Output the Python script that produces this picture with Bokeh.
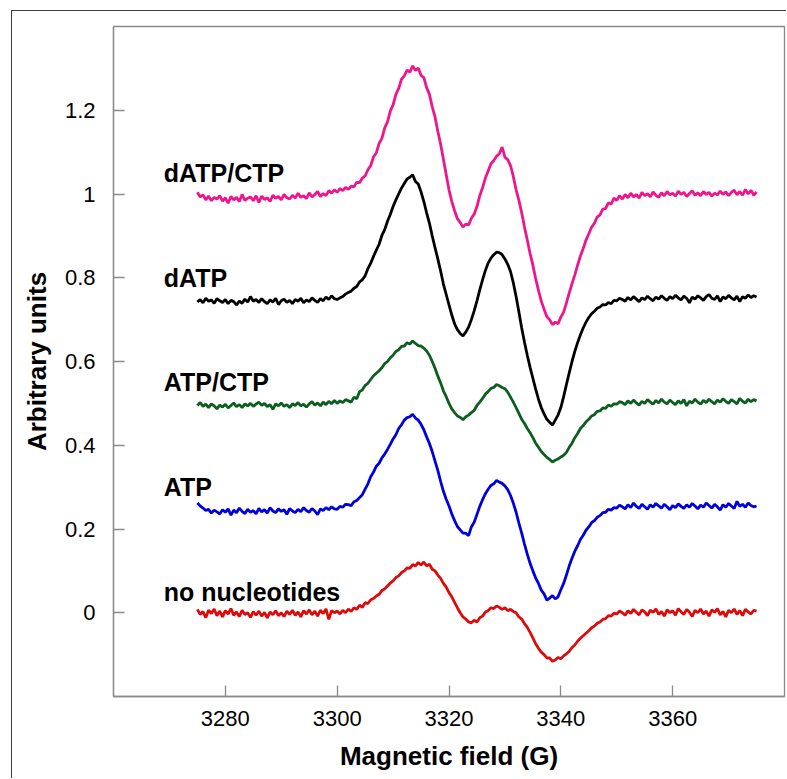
import numpy as np
from bokeh.plotting import figure
from bokeh.models import ColumnDataSource, FixedTicker, Label
from bokeh.embed import file_html
from bokeh.resources import INLINE

# ---------------- data ----------------
field = np.arange(3275.0, 3375.5, 0.5)  # magnetic field grid (G)

dATP_CTP = [
    1.004, 0.993, 0.998, 0.986, 0.995, 0.984, 0.992, 0.988, 0.996, 0.983,
    0.991, 0.978, 0.994, 0.986, 0.992, 0.982, 0.999, 0.985, 0.990, 0.993,
    0.984, 0.996, 0.980, 0.995, 0.987, 0.991, 0.982, 0.997, 0.990, 0.994,
    0.986, 0.999, 0.991, 0.988, 0.997, 0.990, 1.002, 0.992, 0.996, 0.989,
    1.003, 0.993, 0.999, 1.006, 0.994, 1.001, 0.996, 1.008, 1.002, 1.010,
    1.004, 1.013, 1.008, 1.016, 1.011, 1.019, 1.017, 1.028, 1.027, 1.038,
    1.043, 1.058, 1.068, 1.089, 1.098, 1.121, 1.133, 1.158, 1.172, 1.198,
    1.213, 1.238, 1.252, 1.274, 1.282, 1.296, 1.291, 1.306, 1.295, 1.301,
    1.283, 1.278, 1.254, 1.238, 1.208, 1.184, 1.150, 1.119, 1.083, 1.046,
    1.010, 0.982, 0.960, 0.941, 0.932, 0.921, 0.928, 0.926, 0.942, 0.952,
    0.970, 0.996, 1.015, 1.038, 1.055, 1.072, 1.080, 1.090, 1.096, 1.112,
    1.088, 1.082, 1.068, 1.042, 1.010, 0.985, 0.955, 0.921, 0.890, 0.858,
    0.830, 0.798, 0.770, 0.744, 0.725, 0.707, 0.700, 0.688, 0.694, 0.690,
    0.706, 0.718, 0.740, 0.764, 0.786, 0.807, 0.830, 0.852, 0.870, 0.890,
    0.905, 0.921, 0.930, 0.945, 0.950, 0.964, 0.965, 0.979, 0.976, 0.990,
    0.985, 0.996, 0.988, 0.999, 0.991, 1.002, 0.993, 0.999, 0.990, 1.004,
    0.996, 1.001, 0.993, 1.005, 0.997, 0.992, 1.003, 0.996, 1.006, 0.998,
    1.002, 0.995, 1.007, 0.999, 1.004, 0.994, 1.001, 1.008, 0.997, 1.003,
    0.996, 1.006, 0.999, 1.004, 0.995, 1.002, 0.998, 1.007, 0.999, 1.005,
    0.996, 1.004, 1.009, 0.998, 1.006, 0.997, 1.011, 1.000, 1.009, 0.997,
    1.005,
]

dATP = [
    0.742, 0.748, 0.740, 0.751, 0.744, 0.747, 0.739, 0.750, 0.745, 0.741,
    0.748, 0.738, 0.746, 0.743, 0.735, 0.744, 0.739, 0.749, 0.742, 0.755,
    0.744, 0.748, 0.741, 0.750, 0.743, 0.738, 0.747, 0.742, 0.751, 0.736,
    0.745, 0.749, 0.741, 0.746, 0.738, 0.748, 0.744, 0.751, 0.740, 0.747,
    0.743, 0.752, 0.746, 0.741, 0.750, 0.745, 0.754, 0.748, 0.757, 0.750,
    0.748, 0.752, 0.755, 0.761, 0.765, 0.768, 0.775, 0.779, 0.790, 0.795,
    0.805, 0.822, 0.835, 0.851, 0.866, 0.880, 0.901, 0.915, 0.935, 0.951,
    0.970, 0.986, 1.000, 1.014, 1.025, 1.036, 1.040, 1.046, 1.030, 1.024,
    1.005, 0.982, 0.955, 0.930, 0.900, 0.872, 0.845, 0.816, 0.785, 0.760,
    0.735, 0.711, 0.690, 0.676, 0.667, 0.661, 0.670, 0.682, 0.700, 0.721,
    0.745, 0.771, 0.795, 0.817, 0.835, 0.847, 0.855, 0.861, 0.860, 0.855,
    0.845, 0.832, 0.815, 0.788, 0.755, 0.718, 0.680, 0.646, 0.615, 0.586,
    0.560, 0.534, 0.510, 0.490, 0.475, 0.462, 0.455, 0.448, 0.460, 0.472,
    0.490, 0.516, 0.545, 0.573, 0.600, 0.624, 0.645, 0.664, 0.680, 0.694,
    0.705, 0.714, 0.720, 0.727, 0.730, 0.736, 0.735, 0.741, 0.738, 0.746,
    0.745, 0.751, 0.748, 0.744, 0.753, 0.747, 0.755, 0.749, 0.743, 0.752,
    0.748, 0.756, 0.750, 0.745, 0.754, 0.749, 0.757, 0.751, 0.746, 0.755,
    0.750, 0.758, 0.752, 0.747, 0.756, 0.751, 0.740, 0.754, 0.749, 0.757,
    0.752, 0.746, 0.755, 0.760, 0.751, 0.748, 0.757, 0.743, 0.754, 0.750,
    0.758, 0.752, 0.747, 0.756, 0.743, 0.755, 0.751, 0.759, 0.753, 0.757,
    0.754,
]

ATP_CTP = [
    0.495, 0.502, 0.493, 0.498, 0.490, 0.499, 0.494, 0.487, 0.496, 0.491,
    0.498, 0.489, 0.495, 0.501, 0.492, 0.497, 0.490, 0.499, 0.494, 0.500,
    0.493, 0.498, 0.503, 0.495, 0.500, 0.492, 0.497, 0.486, 0.499, 0.494,
    0.501, 0.493, 0.497, 0.490, 0.499, 0.495, 0.502, 0.494, 0.498, 0.491,
    0.499, 0.504, 0.496, 0.501, 0.494, 0.503, 0.497, 0.505, 0.499, 0.507,
    0.500, 0.506, 0.502, 0.509, 0.506, 0.503, 0.515, 0.511, 0.528, 0.532,
    0.543, 0.548, 0.557, 0.566, 0.572, 0.578, 0.585, 0.595, 0.600, 0.609,
    0.615, 0.624, 0.628, 0.636, 0.637, 0.645, 0.642, 0.649, 0.643, 0.638,
    0.637, 0.632, 0.625, 0.615, 0.600, 0.584, 0.565, 0.549, 0.530, 0.516,
    0.500, 0.487, 0.478, 0.470, 0.467, 0.461, 0.468, 0.472, 0.478, 0.483,
    0.495, 0.503, 0.512, 0.522, 0.528, 0.536, 0.538, 0.545, 0.542, 0.538,
    0.535, 0.527, 0.515, 0.503, 0.490, 0.476, 0.462, 0.452, 0.440, 0.430,
    0.418, 0.405, 0.395, 0.385, 0.378, 0.371, 0.366, 0.360, 0.364, 0.367,
    0.372, 0.376, 0.383, 0.395, 0.405, 0.418, 0.428, 0.440, 0.447, 0.456,
    0.462, 0.470, 0.473, 0.481, 0.482, 0.489, 0.488, 0.496, 0.493, 0.499,
    0.498, 0.504, 0.502, 0.497, 0.506, 0.500, 0.508, 0.501, 0.496, 0.505,
    0.500, 0.509, 0.503, 0.498, 0.507, 0.501, 0.510, 0.503, 0.499, 0.508,
    0.502, 0.497, 0.506, 0.500, 0.509, 0.494, 0.505, 0.501, 0.510, 0.503,
    0.498, 0.507, 0.502, 0.510, 0.504, 0.499, 0.508, 0.503, 0.511, 0.505,
    0.500, 0.509, 0.504, 0.499, 0.512, 0.505, 0.501, 0.510, 0.504, 0.509,
    0.506,
]

ATP = [
    0.262, 0.255, 0.250, 0.244, 0.247, 0.238, 0.245, 0.241, 0.236, 0.246,
    0.240, 0.248, 0.233, 0.245, 0.239, 0.250, 0.242, 0.237, 0.247, 0.240,
    0.244, 0.236, 0.249, 0.241, 0.246, 0.238, 0.251, 0.243, 0.239, 0.248,
    0.242, 0.246, 0.235, 0.249, 0.243, 0.239, 0.247, 0.241, 0.251, 0.244,
    0.240, 0.249, 0.243, 0.234, 0.248, 0.244, 0.251, 0.246, 0.253, 0.248,
    0.247, 0.254, 0.252, 0.259, 0.258, 0.256, 0.265, 0.268, 0.275, 0.282,
    0.295, 0.308, 0.325, 0.336, 0.350, 0.357, 0.370, 0.379, 0.390, 0.402,
    0.415, 0.425, 0.440, 0.449, 0.460, 0.466, 0.468, 0.474, 0.465, 0.460,
    0.450, 0.437, 0.420, 0.404, 0.385, 0.362, 0.340, 0.314, 0.290, 0.271,
    0.255, 0.236, 0.220, 0.206, 0.198, 0.190, 0.190, 0.184, 0.205, 0.216,
    0.235, 0.254, 0.270, 0.284, 0.295, 0.304, 0.308, 0.316, 0.312, 0.309,
    0.303, 0.294, 0.280, 0.262, 0.240, 0.214, 0.190, 0.164, 0.140, 0.118,
    0.100, 0.083, 0.070, 0.054, 0.045, 0.030, 0.035, 0.041, 0.033, 0.038,
    0.055, 0.070, 0.090, 0.112, 0.130, 0.147, 0.160, 0.175, 0.185, 0.197,
    0.205, 0.215, 0.220, 0.228, 0.232, 0.239, 0.240, 0.247, 0.245, 0.251,
    0.250, 0.257, 0.253, 0.248, 0.258, 0.251, 0.262, 0.254, 0.249, 0.259,
    0.253, 0.247, 0.258, 0.252, 0.261, 0.255, 0.250, 0.259, 0.253, 0.246,
    0.256, 0.251, 0.260, 0.254, 0.249, 0.258, 0.252, 0.261, 0.255, 0.248,
    0.257, 0.252, 0.262, 0.256, 0.250, 0.259, 0.253, 0.245, 0.258, 0.252,
    0.261, 0.255, 0.249, 0.266, 0.254, 0.259, 0.252, 0.262, 0.256, 0.253,
    0.255,
]

no_nucleotides = [
    0.008, -0.004, 0.003, -0.012, 0.006, -0.002, 0.009, -0.007, 0.004, -0.010,
    0.005, -0.003, 0.010, -0.006, 0.002, -0.009, 0.006, -0.004, 0.000, -0.011,
    0.003, -0.006, 0.004, -0.008, 0.001, -0.012, 0.002, -0.005, 0.005, -0.007,
    0.000, -0.009, 0.004, -0.004, 0.006, -0.006, 0.002, -0.010, 0.005, -0.003,
    0.007, -0.005, 0.004, -0.008, 0.006, -0.002, 0.009, -0.016, 0.005, 0.000,
    0.004, -0.003, 0.006, 0.000, 0.009, 0.003, 0.012, 0.008, 0.018, 0.013,
    0.024, 0.022, 0.031, 0.034, 0.040, 0.044, 0.053, 0.057, 0.064, 0.071,
    0.076, 0.084, 0.088, 0.096, 0.100, 0.107, 0.106, 0.115, 0.112, 0.120,
    0.114, 0.121, 0.112, 0.116, 0.104, 0.100, 0.090, 0.082, 0.070, 0.061,
    0.048, 0.038, 0.025, 0.012, 0.000, -0.010, -0.015, -0.022, -0.024, -0.018,
    -0.022, -0.012, -0.008, 0.002, 0.005, 0.012, 0.010, 0.016, 0.013, 0.008,
    0.012, 0.005, 0.008, 0.003, 0.000, -0.010, -0.015, -0.026, -0.035, -0.047,
    -0.060, -0.074, -0.085, -0.094, -0.100, -0.108, -0.108, -0.116, -0.113, -0.107,
    -0.110, -0.103, -0.098, -0.092, -0.083, -0.077, -0.068, -0.061, -0.055, -0.049,
    -0.043, -0.036, -0.032, -0.025, -0.022, -0.016, -0.014, -0.007, -0.008, -0.001,
    -0.003, 0.004, 0.000, -0.006, 0.005, -0.002, 0.008, 0.001, -0.005, 0.007,
    0.002, -0.007, 0.006, 0.001, 0.009, -0.004, 0.003, -0.008, 0.007, 0.000,
    0.005, -0.006, 0.010, 0.002, -0.004, 0.008, 0.001, -0.009, 0.006, 0.000,
    0.009, -0.003, 0.004, -0.008, 0.007, 0.001, 0.010, -0.005, 0.003, -0.010,
    0.006, 0.000, 0.009, -0.004, 0.005, -0.007, 0.008, 0.002, -0.003, 0.006,
    0.004,
]

series_names = ["dATP/CTP", "dATP", "ATP/CTP", "ATP", "no nucleotides"]
series_values = [dATP_CTP, dATP, ATP_CTP, ATP, no_nucleotides]
series_offsets = [1.0, 0.75, 0.5, 0.25, 0.0]
series_colors = ["#EE168C", "#000000", "#0B5E1E", "#0000DC", "#DC0A0A"]

y_ticks = [0, 0.2, 0.4, 0.6, 0.8, 1.0, 1.2]
y_tick_labels = ["0", "0.2", "0.4", "0.6", "0.8", "1", "1.2"]
x_ticks = [3280, 3300, 3320, 3340, 3360]

# ---------------- figure ----------------
# the figure sits inside a panel whose left/top border is drawn with CSS
p = figure(
    width=775, height=768,
    x_range=(3260, 3380), y_range=(-0.2, 1.4),
    output_backend="svg", toolbar_location=None,
    min_border_left=101, min_border_right=3,
    min_border_top=15, min_border_bottom=83,
    styles={"border-left": "1.5px solid #404040",
            "border-top": "1.5px solid #404040",
            "margin-left": "10.5px", "margin-top": "9.5px"},
)
p.background_fill_color = "white"
p.border_fill_color = "white"
p.grid.visible = False
p.outline_line_color = "#8a8a8a"
p.outline_line_width = 1.3

FONT = "Liberation Sans"

for ax in (p.xaxis[0], p.yaxis[0]):
    ax.axis_line_color = "#8a8a8a"
    ax.axis_line_width = 1.3
    ax.major_tick_line_color = "#8a8a8a"
    ax.major_tick_line_width = 1.3
    ax.major_tick_in = 11
    ax.major_tick_out = 0
    ax.minor_tick_line_color = None
    ax.major_label_text_font = FONT
    ax.major_label_text_font_size = "22px"
    ax.major_label_text_color = "black"
    ax.axis_label_text_font = FONT
    ax.axis_label_text_font_style = "bold"
    ax.axis_label_text_font_size = "26px"
    ax.axis_label_text_color = "black"

p.xaxis.major_label_standoff = 14
p.yaxis.major_label_standoff = 18
p.xaxis.ticker = FixedTicker(ticks=x_ticks)
p.yaxis.ticker = FixedTicker(ticks=y_ticks)
p.yaxis.major_label_overrides = {t: l for t, l in zip(y_ticks, y_tick_labels)}
p.xaxis.axis_label = "Magnetic field (G)"
p.yaxis.axis_label = "Arbitrary units"
p.xaxis.axis_label_standoff = 12
p.yaxis.axis_label_standoff = 10

for name, vals, off, col in zip(series_names, series_values, series_offsets, series_colors):
    src = ColumnDataSource(dict(x=field, y=vals))
    p.line("x", "y", source=src, line_color=col, line_width=2.8)
    p.add_layout(Label(x=3269, y=off + 0.05, text=name,
                       text_font=FONT, text_font_style="bold",
                       text_font_size="25px", text_color="black",
                       text_baseline="alphabetic"))

open("out.html", "w").write(file_html(p, INLINE))
